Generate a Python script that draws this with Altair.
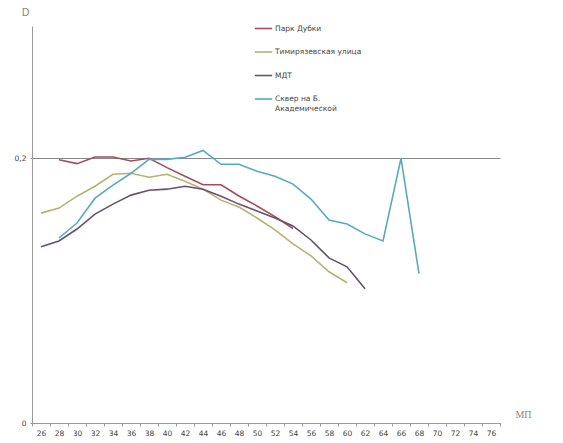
import altair as alt
import pandas as pd

mp_ticks = [26, 28, 30, 32, 34, 36, 38, 40, 42, 44, 46, 48, 50,
            52, 54, 56, 58, 60, 62, 64, 66, 68, 70, 72, 74, 76]

series_names = ["Парк Дубки", "Тимирязевская улица", "МДТ", "Сквер на Б. Академической"]

park_x = [28, 30, 32, 34, 36, 38, 40, 42, 44, 46, 48, 50, 52, 54]
park_y = [0.199, 0.196, 0.201, 0.201, 0.198, 0.200, 0.193, 0.1865, 0.180, 0.180,
          0.1715, 0.164, 0.156, 0.147]

timir_x = [26, 28, 30, 32, 34, 36, 38, 40, 42, 44, 46, 48, 50, 52, 54, 56, 58, 60]
timir_y = [0.1586, 0.1624, 0.1714, 0.1789, 0.188, 0.1887, 0.1857, 0.188, 0.1827,
           0.1767, 0.1684, 0.1632, 0.1549, 0.1459, 0.1353, 0.1263, 0.1143, 0.106]

mdt_x = [26, 28, 30, 32, 34, 36, 38, 40, 42, 44, 46, 48, 50, 52, 54, 56, 58, 60, 62]
mdt_y = [0.1331, 0.1376, 0.1466, 0.1579, 0.1654, 0.1722, 0.1759, 0.1767, 0.1789,
         0.1767, 0.1714, 0.1654, 0.1602, 0.1549, 0.1489, 0.1383, 0.1248, 0.118, 0.1015]

skver_x = [28, 30, 32, 34, 36, 38, 40, 42, 44, 46, 48, 50, 52, 54, 56, 58, 60, 62, 64, 66, 68]
skver_y = [0.1398, 0.1511, 0.1699, 0.1797, 0.1887, 0.1992, 0.1992, 0.2008, 0.206,
           0.1955, 0.1955, 0.1902, 0.1865, 0.1805, 0.1692, 0.1534, 0.1504, 0.1429,
           0.1376, 0.200, 0.1128]

colors = ["#A04E5A", "#B4B470", "#6A4F6E", "#58AABF"]

rows = []
for name, xs, ys in zip(series_names,
                        [park_x, timir_x, mdt_x, skver_x],
                        [park_y, timir_y, mdt_y, skver_y]):
    for xv, yv in zip(xs, ys):
        rows.append({"series": name, "mp": xv, "D": yv})
df = pd.DataFrame(rows)

chart = alt.Chart(df).mark_line(strokeWidth=1.6).encode(
    x=alt.X("mp:O", bandPosition=0.5,
            scale=alt.Scale(type="band", domain=mp_ticks, paddingInner=0, paddingOuter=0),
            axis=alt.Axis(title="МП", titleAngle=0, titleX=491, titleY=-9,
                          titleAlign="center", titleBaseline="middle",
                          titleFont="Liberation Serif", titleFontSize=10,
                          titleFontWeight="normal", titleColor="#888888",
                          labelAngle=0, labelFont="DejaVu Sans", labelFontSize=7.5,
                          labelColor="#444444", labelPadding=3,
                          tickBand="extent", tickSize=3, tickColor="#999999",
                          domainColor="#999999", grid=False)),
    y=alt.Y("D:Q", scale=alt.Scale(domain=[0, 0.3], nice=False),
            axis=alt.Axis(title="D", titleAngle=0, titleX=-7, titleY=-14,
                          titleAlign="center", titleBaseline="middle",
                          titleFont="DejaVu Sans", titleFontSize=10,
                          titleFontWeight="normal", titleColor="#888888",
                          values=[0, 0.2],
                          labelExpr="replace(format(datum.value, '~g'), '.', ',')",
                          labelFont="DejaVu Sans", labelFontSize=7.5,
                          labelColor="#444444", labelPadding=4,
                          tickSize=2, tickColor="#999999",
                          domainColor="#999999",
                          grid=True, gridColor="#888888", gridWidth=1)),
    color=alt.Color("series:N",
                    scale=alt.Scale(domain=series_names, range=colors),
                    sort=series_names,
                    legend=alt.Legend(title=None, orient="none", legendX=222, legendY=-7,
                                      symbolType="stroke", symbolSize=300,
                                      symbolStrokeWidth=1.6,
                                      labelFont="DejaVu Sans", labelFontSize=7.5,
                                      labelColor="#444444", labelOffset=2,
                                      rowPadding=10.5, labelLimit=200,
                                      labelExpr="datum.label == 'Сквер на Б. Академической' ? ['Сквер на Б.', 'Академической'] : datum.label")),
).properties(
    width=468, height=397,
    autosize=alt.AutoSizeParams(type="none"),
    padding={"left": 24, "top": 18, "right": 55, "bottom": 17},
).configure_view(stroke=None)

chart.save("out.html", embed_options={"renderer": "svg", "actions": False})
